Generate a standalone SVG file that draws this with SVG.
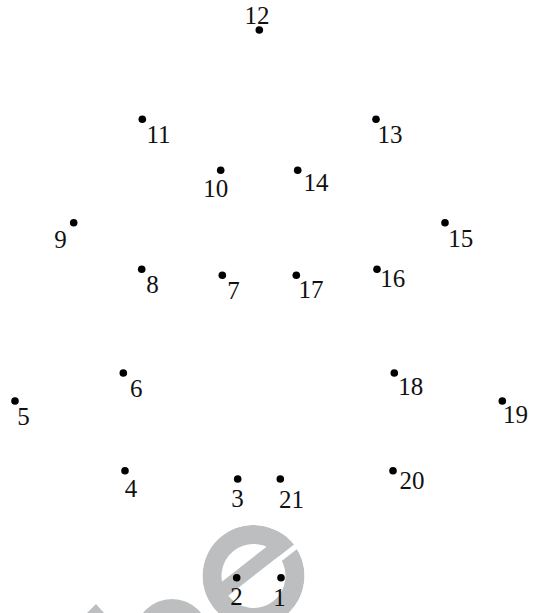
<svg xmlns="http://www.w3.org/2000/svg" width="534" height="613" viewBox="0 0 534 613">
<style>
.d{fill:#000}
.t{font-family:"Liberation Serif","Times New Roman",serif;font-size:25px;fill:#111}
.wm{fill:#bcbec0}
</style>
<defs>
<clipPath id="eclip"><circle cx="0" cy="0" r="51"/></clipPath>
<mask id="egap" maskUnits="userSpaceOnUse" x="-60" y="-60" width="120" height="120">
<rect x="-60" y="-60" width="120" height="120" fill="#fff"/>
<rect x="0" y="0" width="60" height="5.5" fill="#000"/>
</mask>
</defs>
<rect width="534" height="613" fill="#fff"/>
<g id="watermark">
<g transform="translate(253.5 576) rotate(-38)" clip-path="url(#eclip)">
<circle cx="0" cy="0" r="41.5" fill="none" stroke="#bcbec0" stroke-width="19" mask="url(#egap)"/>
<rect class="wm" x="-45" y="-15" width="100" height="15"/>
</g>
<circle class="wm" cx="172" cy="636" r="37"/>
<polygon class="wm" points="96,604 87,613 104,613"/>
</g>
<g id="connectors"/>
<g id="p1"><circle class="d" cx="281" cy="577.7" r="3.8"/><text class="t" x="273.2" y="606">1</text></g>
<g id="p2"><circle class="d" cx="236.7" cy="577.7" r="3.8"/><text class="t" x="230.2" y="605.3">2</text></g>
<g id="p3"><circle class="d" cx="237.7" cy="479" r="3.8"/><text class="t" x="231.2" y="507">3</text></g>
<g id="p4"><circle class="d" cx="125" cy="470.7" r="3.8"/><text class="t" x="124.7" y="497">4</text></g>
<g id="p5"><circle class="d" cx="15" cy="401" r="3.8"/><text class="t" x="17.3" y="425">5</text></g>
<g id="p6"><circle class="d" cx="123.3" cy="373" r="3.8"/><text class="t" x="129.9" y="396.7">6</text></g>
<g id="p7"><circle class="d" cx="222.3" cy="275.3" r="3.8"/><text class="t" x="227.2" y="299">7</text></g>
<g id="p8"><circle class="d" cx="141.7" cy="269.3" r="3.8"/><text class="t" x="146.3" y="292.7">8</text></g>
<g id="p9"><circle class="d" cx="73.7" cy="222.7" r="3.8"/><text class="t" x="54.2" y="248.3">9</text></g>
<g id="p10"><circle class="d" cx="220.7" cy="170.3" r="3.8"/><text class="t" x="203.2" y="196.7">10</text></g>
<g id="p11"><circle class="d" cx="142.3" cy="119.3" r="3.8"/><text class="t" x="146.5" y="143.3">11</text></g>
<g id="p12"><circle class="d" cx="259.3" cy="30" r="3.8"/><text class="t" x="244.5" y="24">12</text></g>
<g id="p13"><circle class="d" cx="376" cy="119.3" r="3.8"/><text class="t" x="377.5" y="143.3">13</text></g>
<g id="p14"><circle class="d" cx="297.7" cy="170.3" r="3.8"/><text class="t" x="303.5" y="190.7">14</text></g>
<g id="p15"><circle class="d" cx="445" cy="222.7" r="3.8"/><text class="t" x="448.2" y="246.7">15</text></g>
<g id="p16"><circle class="d" cx="377" cy="269.3" r="3.8"/><text class="t" x="380.2" y="286.7">16</text></g>
<g id="p17"><circle class="d" cx="296.3" cy="275.3" r="3.8"/><text class="t" x="298.5" y="298.3">17</text></g>
<g id="p18"><circle class="d" cx="394.3" cy="373" r="3.8"/><text class="t" x="398.2" y="395.3">18</text></g>
<g id="p19"><circle class="d" cx="502.3" cy="401" r="3.8"/><text class="t" x="502.9" y="423.3">19</text></g>
<g id="p20"><circle class="d" cx="393" cy="470.7" r="3.8"/><text class="t" x="399.5" y="489.3">20</text></g>
<g id="p21"><circle class="d" cx="280.3" cy="479" r="3.8"/><text class="t" x="278.9" y="507.7">21</text></g>
</svg>
